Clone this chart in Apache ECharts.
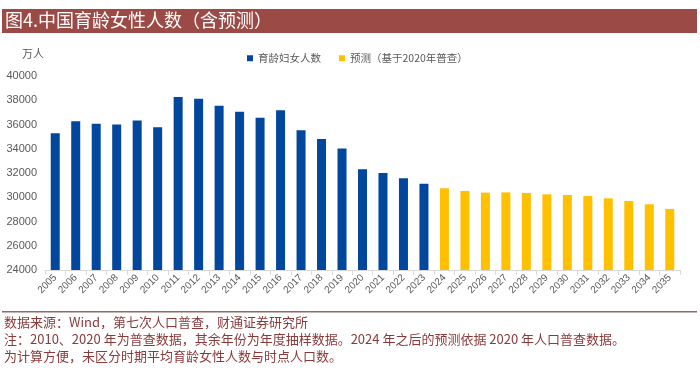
<!DOCTYPE html>
<html><head><meta charset="utf-8">
<script src="https://cdn.jsdelivr.net/npm/echarts@6/dist/echarts.min.js"></script>
<style>html,body{margin:0;padding:0;background:#fff}#c{width:700px;height:368px}</style>
</head><body><div id="c"></div>
<script>
const years = ['2005','2006','2007','2008','2009','2010','2011','2012','2013','2014','2015','2016','2017','2018','2019','2020','2021','2022','2023','2024','2025','2026','2027','2028','2029','2030','2031','2032','2033','2034','2035'];
const actual = [35280,36260,36070,35990,36340,35770,38270,38130,37550,37060,36560,37170,35520,34800,34030,32300,32000,31560,31120];
const forecast = [30740,30520,30380,30400,30350,30240,30190,30100,29910,29690,29420,29030];
const yTicks = [24000,40000,2000];
const seriesNames = ['育龄妇女人数','预测（基于2020年普查）'];
const titleText = '图4.中国育龄女性人数（含预测）';
const unitText = '万人';
const notes = ['数据来源：Wind，第七次人口普查，财通证券研究所','注：2010、2020 年为普查数据，其余年份为年度抽样数据。2024 年之后的预测依据 2020 年人口普查数据。','为计算方便，未区分时期平均育龄女性人数与时点人口数。'];

const actualData = years.map((y,i)=> i<actual.length ? actual[i] : '-');
const forecastData = years.map((y,i)=> i>=actual.length ? forecast[i-actual.length] : '-');

const chart = echarts.init(document.getElementById('c'));
const cjk = '"Noto Sans CJK SC", sans-serif';
chart.setOption({
  animation:false,
  backgroundColor:'#fff',
  grid:{left:45,right:20,top:76,bottom:98,containLabel:false},
  legend:{
    data:seriesNames, left:242, top:48, itemWidth:6, itemHeight:6, itemGap:18,
    icon:'rect',
    textStyle:{color:'#595959',fontSize:10.5,fontFamily:cjk}
  },
  xAxis:{
    type:'category', data:years, boundaryGap:true,
    axisLine:{lineStyle:{color:'#D9D9D9'}},
    axisTick:{show:true,alignWithLabel:false,lineStyle:{color:'#D9D9D9'}},
    axisLabel:{rotate:45,color:'#595959',fontSize:10,fontFamily:'"Liberation Sans", Arial',margin:6,interval:0}
  },
  yAxis:{
    type:'value', min:yTicks[0], max:yTicks[1], interval:yTicks[2],
    axisLine:{show:false}, axisTick:{show:false}, splitLine:{show:false},
    axisLabel:{color:'#595959',fontSize:11,fontFamily:'"Liberation Sans", Arial',margin:8,formatter:v=>String(v)}
  },
  series:[
    {name:seriesNames[0],type:'bar',data:actualData,barWidth:9,barGap:'-100%',itemStyle:{color:'#00479D'}},
    {name:seriesNames[1],type:'bar',data:forecastData,barWidth:9,barGap:'-100%',itemStyle:{color:'#FFC000'}}
  ],
  graphic:[
    {type:'rect',shape:{x:2,y:9,width:695,height:24},style:{fill:'#9B4A45'}},
    {type:'text',left:5,top:11,style:{text:titleText,fill:'#fff',font:'18px "Noto Sans CJK SC"'}},
    {type:'text',left:22,top:48,style:{text:unitText,fill:'#595959',font:'11px "Noto Sans CJK SC"'}},
    {type:'rect',shape:{x:2,y:311,width:695,height:1.5},style:{fill:'#8E6A62'}},
    {type:'text',left:4,top:316,style:{text:notes[0],fill:'#8B3A3A',font:'13px "Noto Sans CJK SC"'}},
    {type:'text',left:4,top:333,style:{text:notes[1],fill:'#8B3A3A',font:'13px "Noto Sans CJK SC"'}},
    {type:'text',left:4,top:350,style:{text:notes[2],fill:'#8B3A3A',font:'13px "Noto Sans CJK SC"'}}
  ]
});
</script></body></html>
